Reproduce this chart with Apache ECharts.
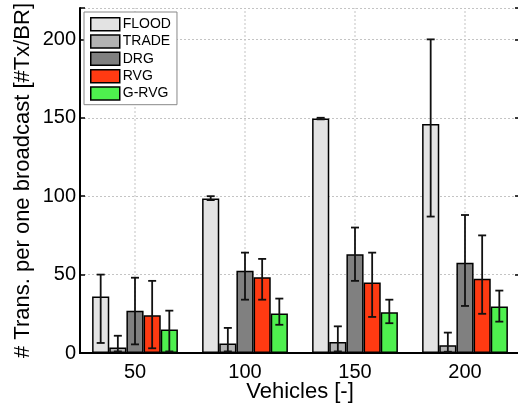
<!DOCTYPE html>
<html>
<head>
<meta charset="utf-8">
<script src="https://cdn.jsdelivr.net/npm/echarts@6/dist/echarts.min.js"></script>
<style>
html,body{margin:0;padding:0;background:#fff;}
#chart{width:518px;height:405px;}
</style>
</head>
<body>
<div id="chart"></div>
<script>
const categories = ['50', '100', '150', '200'];
const seriesNames = ['FLOOD', 'TRADE', 'DRG', 'RVG', 'G-RVG'];
const seriesColors = ['#e3e3e3', '#b3b3b3', '#808080', '#ff3a12', '#4ef04e'];

const floodMean = [36, 98.5, 149.5, 146];
const floodLow  = [6.4, 97.5, 149, 87];
const floodHigh = [50, 100, 150, 200];

const tradeMean = [3.5, 6, 7, 5];
const tradeLow  = [1, 1, 1, 0.8];
const tradeHigh = [11, 16, 17, 13];

const drgMean = [27, 52.5, 63, 57.5];
const drgLow  = [5.5, 34, 46, 30];
const drgHigh = [48, 64, 80, 88];

const rvgMean = [24, 48.3, 45, 47.3];
const rvgLow  = [3, 34, 23, 25];
const rvgHigh = [46, 60, 64, 75];

const grvgMean = [15, 25.2, 26, 29.6];
const grvgLow  = [1, 18, 19, 20];
const grvgHigh = [27, 34.7, 34, 39.8];

const yTicks = [0, 50, 100, 150, 200];
const yMax = 220;

const means = [floodMean, tradeMean, drgMean, rvgMean, grvgMean];
const lows = [floodLow, tradeLow, drgLow, rvgLow, grvgLow];
const highs = [floodHigh, tradeHigh, drgHigh, rvgHigh, grvgHigh];

const GAP = 0.22;
const NS = seriesNames.length;

const errData = [];
for (let s = 0; s < NS; s++) {
  for (let c = 0; c < categories.length; c++) {
    errData.push([c, s, lows[s][c], highs[s][c]]);
  }
}
const gridData = categories.map((c, i) => [i, 0, yMax]);

const font = 'Liberation Sans, Arial, sans-serif';
const chart = echarts.init(document.getElementById('chart'), null, {renderer: 'canvas'});

const barSeries = seriesNames.map((name, i) => ({
  name: name,
  type: 'bar',
  xAxisIndex: 0,
  yAxisIndex: 0,
  data: means[i],
  barGap: '0%',
  barCategoryGap: (GAP * 100) + '%',
  itemStyle: {color: seriesColors[i], borderColor: '#000', borderWidth: 1.5},
  emphasis: {disabled: true},
  z: 3
}));

const option = {
  animation: false,
  backgroundColor: '#fff',
  textStyle: {fontFamily: font},
  grid: {left: 80, top: 8, width: 440, height: 345, containLabel: false, outerBoundsMode: 'none'},
  legend: {
    orient: 'vertical',
    left: 84,
    top: 12,
    data: seriesNames,
    icon: 'rect',
    itemWidth: 29,
    itemHeight: 13,
    itemGap: 2.8,
    padding: [5, 6, 4, 6],
    backgroundColor: '#fff',
    borderColor: '#888',
    borderWidth: 1,
    textStyle: {fontSize: 14, lineHeight: 13, color: '#000', fontFamily: font, padding: [0, 0, 0, -2]},
    itemStyle: {borderColor: '#000', borderWidth: 1.5}
  },
  xAxis: [
    {
      type: 'category',
      data: categories,
      position: 'bottom',
      name: 'Vehicles [-]',
      nameLocation: 'middle',
      nameGap: 28,
      nameMoveOverlap: false,
      nameTextStyle: {fontSize: 22, color: '#000', fontFamily: font},
      axisLine: {lineStyle: {color: '#000', width: 2}},
      axisTick: {inside: true, alignWithLabel: true, length: 5, lineStyle: {color: '#000', width: 1.5}},
      axisLabel: {fontSize: 20, color: '#000', margin: 9, fontFamily: font},
      splitLine: {show: false},
      splitArea: {show: false}
    },
    {
      type: 'category',
      data: categories,
      position: 'top',
      axisLine: {lineStyle: {color: '#000', width: 2}},
      axisTick: {inside: true, alignWithLabel: true, length: 4, lineStyle: {color: '#000', width: 1.5}},
      axisLabel: {show: false},
      splitLine: {show: false},
      splitArea: {show: false}
    }
  ],
  yAxis: [
    {
      type: 'value',
      min: 0,
      max: yMax,
      interval: 50,
      name: '# Trans. per one broadcast [#Tx/BR]',
      nameLocation: 'middle',
      nameGap: 46,
      nameMoveOverlap: false,
      nameTextStyle: {fontSize: 22, color: '#000', fontFamily: font},
      axisLine: {show: true, lineStyle: {color: '#000', width: 2}},
      axisTick: {show: true, inside: true, length: 5, lineStyle: {color: '#000', width: 1.5}},
      axisLabel: {
        fontSize: 20, color: '#000', margin: 4, fontFamily: font,
        formatter: v => (yTicks.indexOf(v) >= 0 ? String(v) : '')
      },
      splitLine: {show: true, lineStyle: {color: '#c4c4c4', type: [2, 2], width: 1}}
    },
    {
      type: 'value',
      min: 0,
      max: yMax,
      interval: 50,
      position: 'right',
      axisLine: {show: true, lineStyle: {color: '#000', width: 2}},
      axisTick: {show: true, inside: true, length: 5, lineStyle: {color: '#000', width: 1.5}},
      axisLabel: {show: false},
      splitLine: {show: false}
    }
  ],
  series: [
    {
      type: 'custom',
      name: 'vgrid',
      xAxisIndex: 0,
      yAxisIndex: 0,
      silent: true,
      z: 1,
      data: gridData,
      encode: {x: 0, y: [1, 2]},
      renderItem: function (params, api) {
        const a = api.coord([api.value(0), api.value(1)]);
        const b = api.coord([api.value(0), api.value(2)]);
        return {
          type: 'line',
          shape: {x1: a[0], y1: a[1], x2: b[0], y2: b[1]},
          style: {stroke: '#c4c4c4', lineWidth: 1, lineDash: [2, 2]}
        };
      }
    },
    ...barSeries,
    {
      type: 'custom',
      name: 'err',
      xAxisIndex: 0,
      yAxisIndex: 0,
      silent: true,
      z: 5,
      data: errData,
      encode: {x: 0, y: [2, 3]},
      renderItem: function (params, api) {
        const c = api.value(0);
        const s = api.value(1);
        const lo = api.coord([c, api.value(2)]);
        const hi = api.coord([c, api.value(3)]);
        const band = api.size([1, 0])[0];
        const bw = band * (1 - GAP) / NS;
        const x = lo[0] + (s - (NS - 1) / 2) * bw;
        const cap = 4;
        const st = {stroke: '#111', lineWidth: 1.8};
        return {
          type: 'group',
          children: [
            {type: 'line', shape: {x1: x, y1: lo[1], x2: x, y2: hi[1]}, style: st},
            {type: 'line', shape: {x1: x - cap, y1: lo[1], x2: x + cap, y2: lo[1]}, style: st},
            {type: 'line', shape: {x1: x - cap, y1: hi[1], x2: x + cap, y2: hi[1]}, style: st}
          ]
        };
      }
    }
  ]
};
chart.setOption(option);
</script>
</body>
</html>
